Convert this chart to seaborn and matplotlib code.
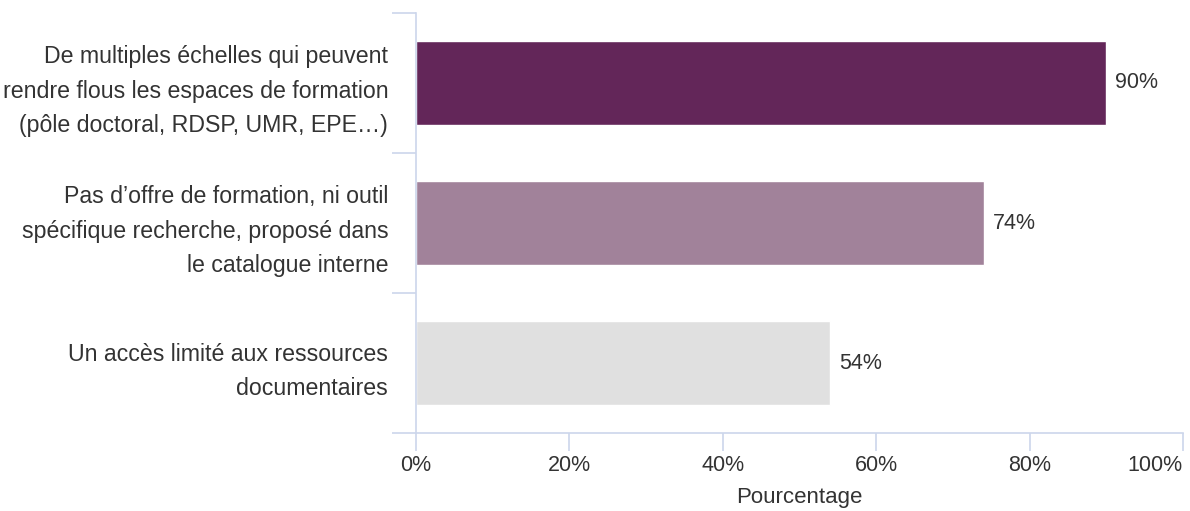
import pandas as pd
import seaborn as sns
import matplotlib.pyplot as plt
from matplotlib.ticker import FixedLocator, PercentFormatter

sns.set_theme(style="white")
plt.rcParams['font.family'] = ['Liberation Sans', 'DejaVu Sans']

# Data
categories = [
    "De multiples échelles qui peuvent\nrendre flous les espaces de formation\n(pôle doctoral, RDSP, UMR, EPE…)",
    "Pas d’offre de formation, ni outil\nspécifique recherche, proposé dans\nle catalogue interne",
    "Un accès limité aux ressources\ndocumentaires",
]
values = [90, 74, 54]
colors = ["#632659", "#a1829a", "#e0e0e0"]

data = pd.DataFrame({"categorie": categories, "pourcentage": values})

axis_color = "#ccd6eb"
text_color = "#333333"

fig = plt.figure(figsize=(11.9, 5.11), dpi=100)
ax = fig.add_axes([0.3496, 0.1526, 0.6445, 0.822])

sns.barplot(data=data, x="pourcentage", y="categorie", hue="categorie",
            palette=colors, width=0.6, saturation=1, legend=False, ax=ax)

ax.set_xlim(0, 100)
ax.set_ylim(2.5, -0.5)
ax.set_xticks([0, 20, 40, 60, 80, 100])
ax.xaxis.set_major_formatter(PercentFormatter(decimals=0))

# y ticks on category boundaries, labels centred on bars
ax.yaxis.set_minor_locator(FixedLocator([-0.5, 0.5, 1.5, 2.5]))
ax.tick_params(axis="y", which="major", length=0, pad=20,
               labelsize=16.7, labelcolor=text_color)
ax.tick_params(axis="y", which="minor", length=17, width=1.2, color=axis_color, left=True)
for lbl in ax.get_yticklabels():
    lbl.set_linespacing(1.62)
    lbl.set_horizontalalignment("right")

ax.tick_params(axis="x", which="major", length=13, width=1.2, color=axis_color,
               bottom=True, labelsize=15.5, labelcolor=text_color, pad=3)
# last label kept inside the figure, like the original
last = ax.xaxis.get_major_ticks()[-1].label1
last.set_horizontalalignment("right")

for side in ["top", "right"]:
    ax.spines[side].set_visible(False)
for side in ["left", "bottom"]:
    ax.spines[side].set_color(axis_color)
    ax.spines[side].set_linewidth(1.2)

ax.set_ylabel("")
ax.set_xlabel("Pourcentage", fontsize=16, color=text_color, labelpad=8)

for i, v in enumerate(values):
    ax.text(v + 1.2, i, f"{v}%", va="center", ha="left", fontsize=15.5, color=text_color)

plt.savefig("out.png", dpi=100)
